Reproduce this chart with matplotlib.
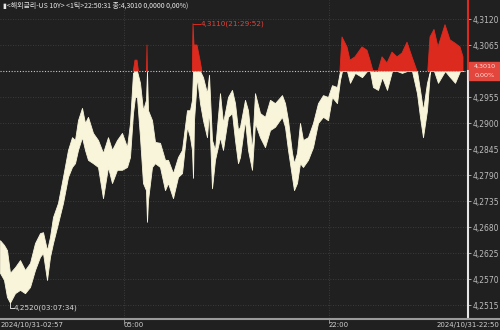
import numpy as np
import matplotlib
matplotlib.use("Agg")
import matplotlib.pyplot as plt
from matplotlib.lines import Line2D
from matplotlib.patches import Rectangle

# US 10Y tick chart, 2024/10/31 02:57 -> 22:50 (bucket index on x, high/low per bucket)
idx = [0, 4, 7, 10, 15, 20, 25, 30, 35, 40, 43, 47, 50, 53, 58, 63, 68, 72, 75, 78,
       82, 85, 88, 93, 98, 103, 108, 112, 117, 122, 127, 130, 133, 135, 137, 140, 143, 146, 147, 148,
       152, 155, 160, 165, 168, 173, 178, 182, 187, 190, 192, 193, 194, 197, 200, 203, 207, 209, 212, 215,
       220, 223, 228, 232, 235, 238, 240, 245, 248, 252, 255, 260, 265, 270, 275, 282, 285, 288, 292, 294,
       297, 300, 303, 308, 313, 318, 323, 328, 332, 337, 340, 342, 347, 350, 355, 362, 367, 370, 373, 378,
       382, 387, 392, 397, 402, 407, 412, 417, 420, 423, 427, 430, 434, 438, 445, 450, 455, 460, 463]
high = [4.2652, 4.2642, 4.2631, 4.2583, 4.2595, 4.2610, 4.2589, 4.2604, 4.2646, 4.2667, 4.2669, 4.2631, 4.2659, 4.2701, 4.2731, 4.2786, 4.2843, 4.2870, 4.2864, 4.2906,
        4.2932, 4.2900, 4.2913, 4.2879, 4.2864, 4.2837, 4.2870, 4.2843, 4.2864, 4.2879, 4.2849, 4.2900, 4.3006, 4.3033, 4.3033, 4.2985, 4.2927, 4.2949, 4.3065, 4.2927,
        4.2906, 4.2860, 4.2858, 4.2822, 4.2822, 4.2794, 4.2828, 4.2843, 4.2927, 4.2927, 4.2949, 4.3110, 4.3065, 4.3065, 4.3033, 4.2997, 4.2963, 4.3002, 4.2864, 4.2843,
        4.2963, 4.2900, 4.2955, 4.2970, 4.2942, 4.2885, 4.2892, 4.2949, 4.2927, 4.2843, 4.2963, 4.2921, 4.2913, 4.2949, 4.2942, 4.2959, 4.2942, 4.2906, 4.2837, 4.2815,
        4.2837, 4.2900, 4.2864, 4.2870, 4.2900, 4.2942, 4.2959, 4.2955, 4.2980, 4.2976, 4.3012, 4.3082, 4.3061, 4.3033, 4.3040, 4.3061, 4.3054, 4.3033, 4.3010, 4.3010,
        4.3040, 4.3027, 4.3050, 4.3040, 4.3048, 4.3071, 4.3040, 4.3010, 4.2970, 4.2927, 4.2985, 4.3082, 4.3098, 4.3061, 4.3108, 4.3076, 4.3069, 4.3061, 4.3040]
low = [4.2583, 4.2568, 4.2532, 4.2520, 4.2540, 4.2547, 4.2540, 4.2553, 4.2589, 4.2617, 4.2625, 4.2568, 4.2617, 4.2646, 4.2688, 4.2731, 4.2786, 4.2807, 4.2815, 4.2843,
       4.2870, 4.2843, 4.2822, 4.2815, 4.2807, 4.2741, 4.2807, 4.2773, 4.2801, 4.2801, 4.2807, 4.2828, 4.2921, 4.2955, 4.2955, 4.2870, 4.2773, 4.2758, 4.2691, 4.2737,
       4.2807, 4.2815, 4.2807, 4.2758, 4.2773, 4.2741, 4.2786, 4.2794, 4.2892, 4.2870, 4.2843, 4.2784, 4.2906, 4.2997, 4.2942, 4.2906, 4.2870, 4.2927, 4.2762, 4.2822,
       4.2870, 4.2843, 4.2913, 4.2921, 4.2864, 4.2815, 4.2828, 4.2906, 4.2843, 4.2801, 4.2900, 4.2870, 4.2849, 4.2885, 4.2892, 4.2913, 4.2892, 4.2843, 4.2786, 4.2758,
       4.2773, 4.2815, 4.2807, 4.2822, 4.2849, 4.2900, 4.2913, 4.2906, 4.2955, 4.2942, 4.2991, 4.3010, 4.3010, 4.2985, 4.3006, 4.2997, 4.3010, 4.3010, 4.2976, 4.2970,
       4.2997, 4.2970, 4.3010, 4.3010, 4.3006, 4.3010, 4.3010, 4.2963, 4.2913, 4.2870, 4.2927, 4.3010, 4.3010, 4.2985, 4.3010, 4.2997, 4.2985, 4.3010, 4.3010]

base = 4.3010
y_ticks = [4.2515, 4.2570, 4.2625, 4.2680, 4.2735, 4.2790, 4.2845, 4.2900, 4.2955, 4.3010, 4.3065, 4.3120]
x_grid = [124, 329]
x_labels = ["05:00", "22:00"]
hi_pt = (193, 4.3110, "4,3110(21:29:52)")
lo_pt = (10, 4.2520, "4,2520(03:07:34)")

BG = "#202020"
CREAM = "#f8f5da"
RED = "#dc2a1e"
GRID = "#444444"
Y0, Y1 = 4.24875, 4.31602

fig = plt.figure(figsize=(5, 3.3), dpi=100, facecolor=BG)
ax = fig.add_axes([0, 1 - 318 / 330, 468 / 500, 318 / 330])
ax.set_facecolor(BG)

x = np.array(idx)
hi = np.array(high)
lo = np.array(low)

ax.fill_between(x, lo, np.minimum(hi, base), color=CREAM, lw=0.6, ec=CREAM, zorder=3)
ax.fill_between(x, base, hi, where=hi >= base, interpolate=True, color=RED, lw=0.6, ec=RED, zorder=3)

ax.set_xlim(0, 468)
ax.set_ylim(Y0, Y1)

for v in y_ticks:
    if v != base:
        ax.axhline(v, color=GRID, lw=0.6, ls=(0, (1, 2)), zorder=1)
for gx in x_grid:
    ax.axvline(gx, color=GRID, lw=0.6, ls=(0, (1, 2)), zorder=1)
ax.axhline(base, color="#c8c8c8", lw=0.8, ls=(0, (1, 1.5)), zorder=4)

# the current price label sits in the red box instead of the tick label
ax.yaxis.tick_right()
ax.set_yticks(y_ticks)
ax.set_yticklabels(["" if v == base else f"{v:.4f}".replace(".", ",") for v in y_ticks])
ax.tick_params(axis="y", colors="#bdbdbd", labelsize=5.5, length=2, width=0.6, pad=1)
ax.set_xticks([])
for s in ax.spines.values():
    s.set_visible(False)

# right axis line: red above current price, light below
ax.plot([468, 468], [base, Y1], color=RED, lw=1.5, clip_on=False, zorder=5)
ax.plot([468, 468], [Y0, base], color="#e6e6e6", lw=1.5, clip_on=False, zorder=5)

# high / low markers
ax.plot([hi_pt[0], hi_pt[0] + 7], [hi_pt[1], hi_pt[1]], color=RED, lw=0.7, zorder=5)
ax.text(hi_pt[0] + 8, hi_pt[1], hi_pt[2], color="#e0443a", fontsize=5.2, va="center", ha="left")
lo_y = 4.2509
ax.plot([lo_pt[0], lo_pt[0], lo_pt[0] + 4], [lo_pt[1], lo_y, lo_y], color="#d8d8d8", lw=0.7, zorder=5)
ax.text(lo_pt[0] + 4, lo_y, lo_pt[2], color="#d8d8d8", fontsize=5.2, va="center", ha="left")

# bottom axis line and time labels
fig.add_artist(Line2D([0, 1], [1 - 319 / 330] * 2, color="#9a9a9a", lw=1.5))
for gx in x_grid:
    fig.add_artist(Line2D([gx / 500] * 2, [1 - 319 / 330, 1 - 323 / 330], color="#9a9a9a", lw=0.6))
fig.text(1 / 500, 1 - 325 / 330, "2024/10/31-02:57", color="#d0d0d0", fontsize=5, ha="left", va="center")
for gx, lab in zip(x_grid, x_labels):
    fig.text(gx / 500, 1 - 325 / 330, lab, color="#d0d0d0", fontsize=5, ha="left", va="center")
fig.text(499 / 500, 1 - 325 / 330, "2024/10/31-22:50", color="#d0d0d0", fontsize=5, ha="right", va="center")

# current price box
fig.add_artist(Rectangle((469 / 500, 1 - 80 / 330), 31 / 500, 18 / 330, transform=fig.transFigure,
                         color="#e2463c", zorder=6))
fig.text(485 / 500, 1 - 66.5 / 330, "4,3010", color="#ffe0dc", fontsize=4.6, ha="center", va="center", zorder=7)
fig.text(485 / 500, 1 - 75.5 / 330, "0,00%", color="#ffe0dc", fontsize=4.6, ha="center", va="center", zorder=7)

# header
fig.text(3 / 500, 1 - 6 / 330, "▮<해외금리-US 10Y> <1틱>22:50:31 종:4,3010 0,0000 0,00%)",
         color="#e8e8e8", fontsize=5.0, ha="left", va="center",
         family=["Noto Sans CJK KR", "DejaVu Sans"])

fig.savefig("out.png", dpi=100, facecolor=BG)
